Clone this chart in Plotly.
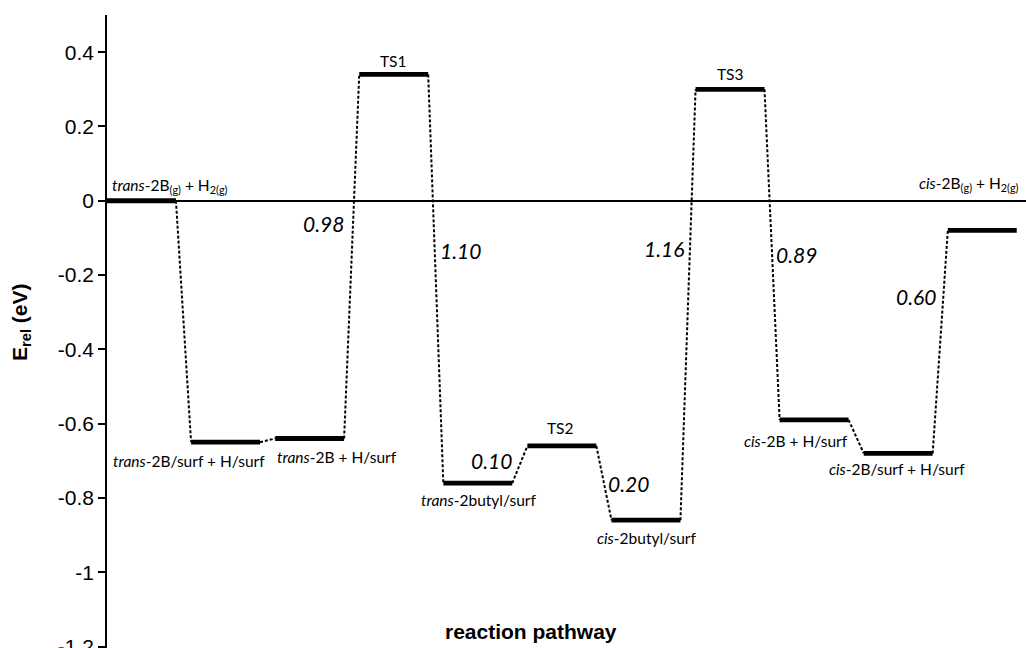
import plotly.graph_objects as go

# ---- data ----
states = [
    "<i>trans</i>-2B<sub>(g)</sub> + H<sub>2(g)</sub>",
    "<i>trans</i>-2B/surf + H/surf",
    "<i>trans</i>-2B + H/surf",
    "TS1",
    "<i>trans</i>-2butyl/surf",
    "TS2",
    "<i>cis</i>-2butyl/surf",
    "TS3",
    "<i>cis</i>-2B + H/surf",
    "<i>cis</i>-2B/surf + H/surf",
    "<i>cis</i>-2B<sub>(g)</sub> + H<sub>2(g)</sub>",
]
energies = [0.00, -0.65, -0.64, 0.34, -0.76, -0.66, -0.86, 0.30, -0.59, -0.68, -0.08]
level_start = [0, 1, 2, 3, 4, 5, 6, 7, 8, 9, 10]
level_end = [0.82, 1.82, 2.82, 3.82, 4.82, 5.82, 6.82, 7.82, 8.82, 9.82, 10.82]

barriers = ["0.98", "1.10", "0.10", "0.20", "1.16", "0.89", "0.60"]
barrier_x = [2.57, 4.20, 4.57, 6.20, 6.62, 8.20, 9.62]
barrier_y = [-0.061, -0.134, -0.70, -0.762, -0.128, -0.144, -0.257]

y_ticks = [0.4, 0.2, 0, -0.2, -0.4, -0.6, -0.8, -1, -1.2]
y_ticktext = ["0.4", "0.2", "0", "-0.2", "-0.4", "-0.6", "-0.8", "-1", "-1.2"]

# label placement (pixel offsets relative to level centre)
label_dx = [3, -37, 27, 0, 1, -1, 1, 0, -18, -1, 4]
label_dy = [15, -19, -19, 13, -17, 18, -18, 15, -21, -16, 46]

# ---- figure ----
lx, ly = [], []
for s, e, E in zip(level_start, level_end, energies):
    lx += [s, e, None]
    ly += [E, E, None]

cx, cy = [], []
for i in range(len(energies) - 1):
    cx += [level_end[i], level_start[i + 1], None]
    cy += [energies[i], energies[i + 1], None]

fig = go.Figure()
fig.add_trace(go.Scatter(x=cx, y=cy, mode="lines",
                         line=dict(color="black", width=2, dash="3px,2px"),
                         hoverinfo="skip", showlegend=False, cliponaxis=False))
fig.add_trace(go.Scatter(x=lx, y=ly, mode="lines",
                         line=dict(color="black", width=4.8),
                         hoverinfo="skip", showlegend=False, cliponaxis=False))

label_font = dict(family="Lato, Open Sans, sans-serif", size=15.5, color="black")
for i, txt in enumerate(states):
    xc = (level_start[i] + level_end[i]) / 2
    anchor = "center"
    if i == 0:
        xc, anchor = level_start[i], "left"
    elif i == len(states) - 1:
        xc, anchor = level_end[i], "right"
    fig.add_annotation(x=xc, y=energies[i], text=txt, showarrow=False,
                       xanchor=anchor, yanchor="middle",
                       xshift=label_dx[i], yshift=label_dy[i], font=label_font)

for t, bx, by in zip(barriers, barrier_x, barrier_y):
    fig.add_annotation(x=bx, y=by, text="<i>" + t + "</i>", showarrow=False,
                       xanchor="center", yanchor="middle",
                       font=dict(family="Lato, Open Sans, sans-serif", size=21, color="black"))

fig.add_annotation(xref="paper", yref="paper", x=0, y=0.515, xshift=-86,
                   text="<b>E<sub>rel</sub> (eV)</b>", textangle=-90, showarrow=False,
                   xanchor="center", yanchor="middle",
                   font=dict(family="Arial, Liberation Sans, sans-serif", size=21, color="black"))
fig.add_annotation(xref="paper", yref="paper", x=0.461, y=0.026,
                   text="<b>reaction pathway</b>", showarrow=False,
                   xanchor="center", yanchor="middle",
                   font=dict(family="Arial, Liberation Sans, sans-serif", size=21, color="black"))

fig.update_xaxes(range=[0, 10.93], visible=False, showgrid=False, automargin=False)
fig.update_yaxes(range=[-1.204, 0.5], tickvals=y_ticks, ticktext=y_ticktext,
                 showgrid=False, showline=True, linecolor="black", linewidth=1.5,
                 ticks="outside", ticklen=7, tickwidth=1.5, tickcolor="black",
                 zeroline=True, zerolinecolor="black", zerolinewidth=1.5,
                 automargin=False, ticklabeloverflow="allow",
                 tickfont=dict(family="Arial, Liberation Sans, sans-serif", size=21, color="black"))
fig.update_layout(width=1026, height=648, margin=dict(l=107, r=0, t=15, b=0),
                  plot_bgcolor="white", paper_bgcolor="white", showlegend=False)

fig.write_html("out.html", config={"displayModeBar": False},
               post_script="document.body.style.margin='0';document.body.style.overflow='hidden';")
